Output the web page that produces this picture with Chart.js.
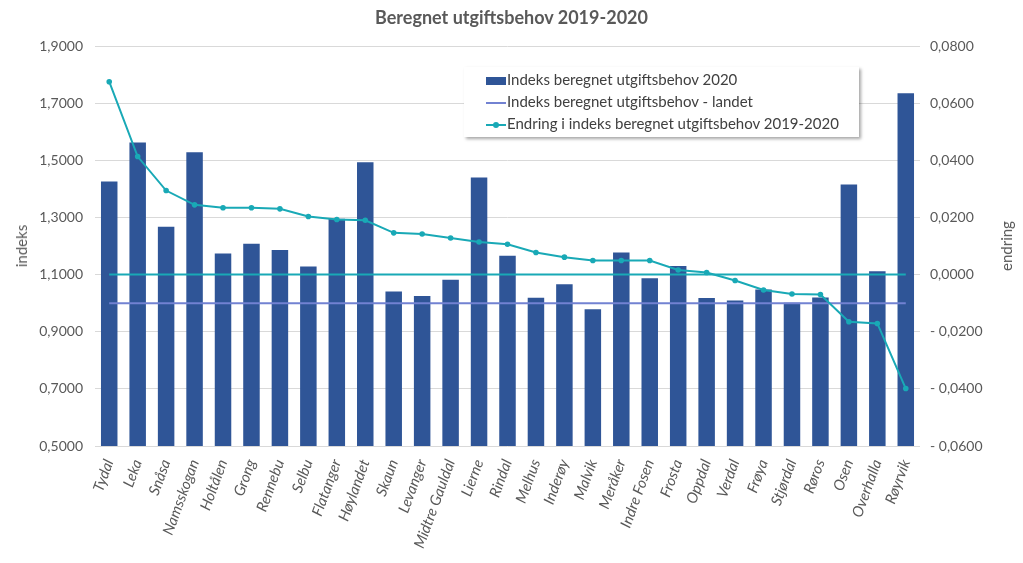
<!DOCTYPE html>
<html><head><meta charset="utf-8">
<script src="https://cdn.jsdelivr.net/npm/chart.js@4"></script>
<style>
html,body{margin:0;padding:0;background:#fff;}
#wrap{position:relative;width:1023px;height:563px;font-family:Lato,"Open Sans",sans-serif;}
#title{position:absolute;left:0;width:1023px;top:6px;text-align:center;font-weight:bold;font-size:18px;color:#595959;}
.ax{position:absolute;font-size:15px;color:#595959;transform:translate(-50%,-50%) rotate(-90deg);white-space:nowrap;}
#legend{position:absolute;left:464px;top:67px;width:395px;height:70px;background:#fff;box-shadow:2px 2px 3px rgba(0,0,0,0.35);font-size:15px;color:#404040;}
.row{position:absolute;left:22px;height:20px;line-height:20px;white-space:nowrap;}
.mk{display:inline-block;width:20px;vertical-align:middle;position:relative;height:10px;margin-right:1px;}
</style></head>
<body><div id="wrap">
<canvas id="c" width="1023" height="563"></canvas>
<div id="title">Beregnet utgiftsbehov 2019-2020</div>
<div class="ax" style="left:21px;top:246px">indeks</div>
<div class="ax" style="left:1006px;top:246px">endring</div>
<div id="legend">
 <div class="row" style="top:2px"><span class="mk"><span style="position:absolute;left:0;top:1px;width:20px;height:8px;background:#2F5597"></span></span>Indeks beregnet utgiftsbehov 2020</div>
 <div class="row" style="top:24px"><span class="mk"><span style="position:absolute;left:0;top:4px;width:20px;height:2px;background:#7282D2"></span></span>Indeks beregnet utgiftsbehov - landet</div>
 <div class="row" style="top:46px"><span class="mk"><span style="position:absolute;left:0;top:4px;width:20px;height:2px;background:#19A9B6"></span><span style="position:absolute;left:7px;top:2px;width:6px;height:6px;border-radius:3px;background:#19A9B6"></span></span>Endring i indeks beregnet utgiftsbehov 2019-2020</div>
</div>
</div>
<script>
const categories = ["Tydal","Leka","Snåsa","Namsskogan","Holtålen","Grong","Rennebu","Selbu","Flatanger","Høylandet","Skaun","Levanger","Midtre Gauldal","Lierne","Rindal","Melhus","Inderøy","Malvik","Meråker","Indre Fosen","Frosta","Oppdal","Verdal","Frøya","Stjørdal","Røros","Osen","Overhalla","Røyrvik"];
const indeks2020 = [1.426,1.562,1.267,1.528,1.174,1.208,1.186,1.128,1.295,1.493,1.041,1.025,1.082,1.440,1.166,1.019,1.066,0.979,1.177,1.087,1.130,1.018,1.009,1.048,1.001,1.020,1.415,1.112,1.735];
const landet = [1,1,1,1,1,1,1,1,1,1,1,1,1,1,1,1,1,1,1,1,1,1,1,1,1,1,1,1,1];
const endring = [0.0675,0.0413,0.0294,0.0244,0.0234,0.0234,0.0230,0.0203,0.0193,0.0190,0.0146,0.0142,0.0128,0.0114,0.0106,0.0077,0.0061,0.0049,0.0049,0.0049,0.0016,0.0007,-0.0021,-0.0054,-0.0068,-0.0070,-0.0165,-0.0171,-0.0399];
const nullLinje = [0,0,0,0,0,0,0,0,0,0,0,0,0,0,0,0,0,0,0,0,0,0,0,0,0,0,0,0,0];
const leftTicks = {min:0.5,max:1.9,step:0.2};
const rightTicks = {min:-0.06,max:0.08,step:0.02};

const FONT = 'Lato, "Open Sans", sans-serif';
const GREY = '#595959';
function fmt(v){
  const s = Math.abs(v).toFixed(4).replace('.',',');
  return v < -1e-9 ? '- ' + s : s;
}
new Chart(document.getElementById('c'), {
  data: {
    labels: categories,
    datasets: [
      {type:'line', label:'Endring i indeks beregnet utgiftsbehov 2019-2020', data:endring, yAxisID:'y1', borderColor:'#19A9B6', backgroundColor:'#19A9B6', borderWidth:2, pointRadius:1.8, pointHoverRadius:1.8, order:1, tension:0},
      {type:'line', label:'Indeks beregnet utgiftsbehov - landet', data:landet, yAxisID:'y', borderColor:'#7282D2', borderWidth:2, pointRadius:0, order:2},
      {type:'line', label:'null', data:nullLinje, yAxisID:'y1', borderColor:'#19A9B6', borderWidth:2, pointRadius:0, order:3},
      {type:'bar', label:'Indeks beregnet utgiftsbehov 2020', data:indeks2020, yAxisID:'y', backgroundColor:'#2F5597', barPercentage:0.58, categoryPercentage:1, order:4}
    ]
  },
  options: {
    responsive:false, animation:false,
    layout:{padding:{top:46,left:0,right:0,bottom:0}},
    plugins:{legend:{display:false}, tooltip:{enabled:false}, title:{display:false}},
    scales:{
      x:{
        grid:{display:false}, border:{display:false},
        ticks:{color:GREY, font:{family:FONT,size:15,style:'italic'}, minRotation:70, maxRotation:70, padding:3, autoSkip:false},
        afterFit(s){ s.height = 117; }
      },
      y:{
        position:'left', min:leftTicks.min, max:leftTicks.max,
        ticks:{stepSize:leftTicks.step, color:GREY, font:{family:FONT,size:14}, padding:12, callback:(v)=>fmt(v)},
        grid:{color:'#D9D9D9', lineWidth:1, drawTicks:false}, border:{display:false},
        afterFit(s){ s.width = 95; }
      },
      y1:{
        position:'right', min:rightTicks.min, max:rightTicks.max,
        ticks:{stepSize:rightTicks.step, color:GREY, font:{family:FONT,size:14}, padding:10, callback:(v)=>fmt(v)},
        grid:{display:false, drawTicks:false}, border:{display:false},
        afterFit(s){ s.width = 103; }
      }
    }
  }
});
</script>
</body></html>
